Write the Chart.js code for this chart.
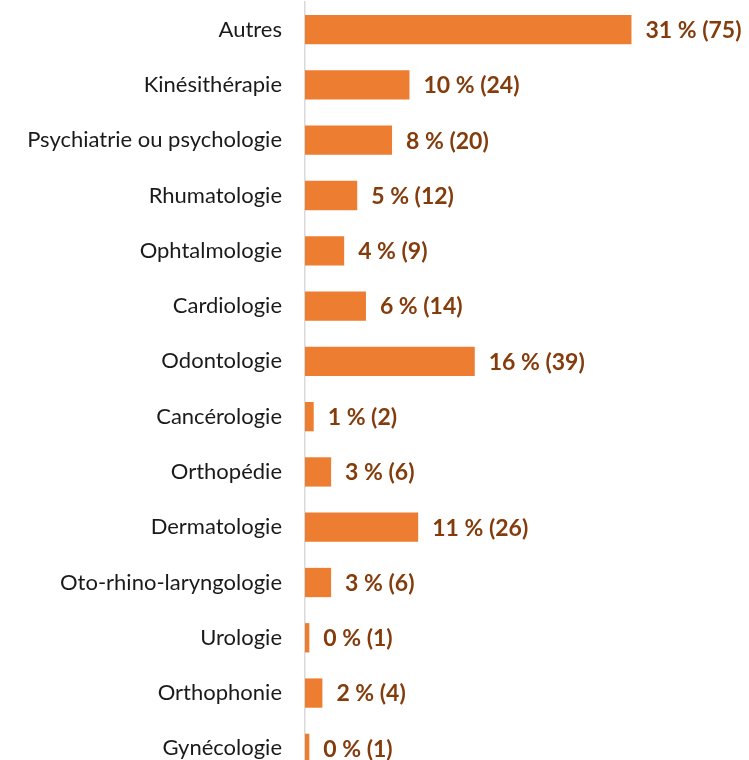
<!DOCTYPE html>
<html>
<head>
<meta charset="utf-8">
<script src="https://cdn.jsdelivr.net/npm/chart.js@4.4.0/dist/chart.umd.min.js"></script>
<style>
  html, body { margin: 0; padding: 0; background: #fff; overflow: hidden; }
  #wrap { position: relative; width: 749px; height: 776px; }
</style>
</head>
<body>
<div id="wrap"><canvas id="chart"></canvas></div>
<script>
const categories = ["Autres", "Kinésithérapie", "Psychiatrie ou psychologie", "Rhumatologie",
    "Ophtalmologie", "Cardiologie", "Odontologie", "Cancérologie", "Orthopédie",
    "Dermatologie", "Oto-rhino-laryngologie", "Urologie", "Orthophonie", "Gynécologie"];
const counts = [75, 24, 20, 12, 9, 14, 39, 2, 6, 26, 6, 1, 4, 1];
const percents = [31, 10, 8, 5, 4, 6, 16, 1, 3, 11, 3, 0, 2, 0];

// labels "31 % (75)" at the end of each bar
const barLabels = {
    id: "barLabels",
    afterDatasetsDraw(chart) {
        const ctx = chart.ctx;
        const meta = chart.getDatasetMeta(0);
        ctx.save();
        ctx.font = "bold 23px Lato";
        ctx.fillStyle = "#843c0c";
        ctx.textBaseline = "middle";
        meta.data.forEach((bar, i) => {
            ctx.fillText(percents[i] + " % (" + counts[i] + ")", bar.x + 14, bar.y + 1);
        });
        ctx.restore();
    }
};

new Chart(document.getElementById("chart"), {
    type: "bar",
    data: {
        labels: categories,
        datasets: [{
            data: counts,
            backgroundColor: "#ed7d31",
            categoryPercentage: 1,
            barPercentage: 0.53
        }]
    },
    options: {
        indexAxis: "y",
        responsive: true,
        maintainAspectRatio: false,
        animation: false,
        layout: { padding: { left: 0, right: 0, top: 2, bottom: 0 } },
        plugins: { legend: { display: false }, tooltip: { enabled: false } },
        scales: {
            x: { display: false, min: 0, max: 102 },
            y: {
                afterFit: (s) => {
                    s.width = 305;
                    s.paddingTop = 0;
                    s.paddingBottom = 0;
                },
                grid: { display: false, drawTicks: false },
                border: { color: "#d9d9d9", width: 1.5 },
                ticks: { color: "#1a1a1a", padding: 23, font: { family: "Lato", size: 22 } }
            }
        }
    },
    plugins: [barLabels]
});
</script>
</body>
</html>
